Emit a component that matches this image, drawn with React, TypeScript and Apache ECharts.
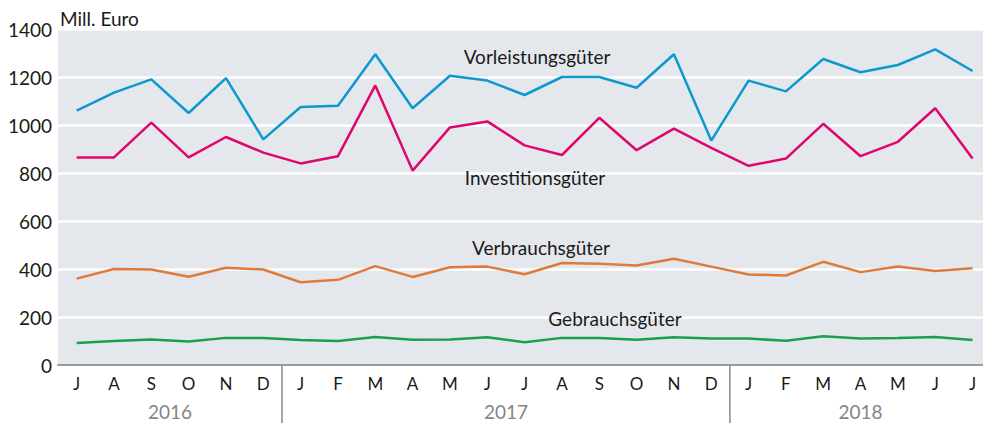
import React, { useEffect, useRef } from "react";
import * as echarts from "echarts";

const months = ["J","A","S","O","N","D","J","F","M","A","M","J","J","A","S","O","N","D","J","F","M","A","M","J","J"];
const years = [
  { label: "2016", from: 0, to: 5 },
  { label: "2017", from: 6, to: 17 },
  { label: "2018", from: 18, to: 24 },
];
const yTicks = [0, 200, 400, 600, 800, 1000, 1200, 1400];

const vorleistung = [1060,1135,1190,1050,1195,940,1075,1080,1295,1070,1205,1185,1125,1200,1200,1155,1295,935,1185,1140,1275,1220,1250,1315,1225];
const investition = [865,865,1010,865,950,885,840,870,1165,810,990,1015,915,875,1030,895,985,905,830,860,1005,870,930,1070,860];
const verbrauch = [360,400,398,368,405,398,345,355,412,367,407,410,378,425,422,415,443,410,377,373,430,387,410,392,403];
const gebrauch = [92,100,106,98,113,113,104,100,117,105,106,116,95,113,113,105,116,110,110,101,120,110,112,117,104];

const seriesDefs = [
  { name: "Vorleistungsgüter", data: vorleistung, color: "#0d98cf" },
  { name: "Investitionsgüter", data: investition, color: "#e0066f" },
  { name: "Verbrauchsgüter", data: verbrauch, color: "#e07a3a" },
  { name: "Gebrauchsgüter", data: gebrauch, color: "#1c9e4b" },
];

const FONT = "Lato, 'Source Sans Pro', 'Noto Sans', sans-serif";

export default function App() {
  const ref = useRef<HTMLDivElement>(null);
  useEffect(() => {
    if (!ref.current) return;
    const chart = echarts.init(ref.current, null, { renderer: "svg" });
    const idx = months.map((_, i) => i);
    chart.setOption({
      animation: false,
      grid: {
        left: 58, top: 29, right: 0, height: 336,
        show: true, backgroundColor: "#e4e8ec", borderWidth: 0,
      },
      xAxis: {
        type: "value",
        min: -0.5,
        max: 24.28,
        axisLine: { onZero: true, lineStyle: { color: "#9a9a9a", width: 2 } },
        axisTick: { show: false },
        splitLine: { show: false },
        axisLabel: {
          customValues: idx,
          color: "#1a1a1a", fontSize: 17, fontFamily: FONT, margin: 10,
          formatter: (v: number) => months[Math.round(v)] ?? "",
        },
      },
      yAxis: {
        type: "value",
        min: 0, max: 1400, interval: 200,
        axisLine: { show: false },
        axisTick: { show: false },
        axisLabel: { color: "#1a1a1a", fontSize: 19, fontFamily: FONT, margin: 6,
          formatter: (v: number) => (yTicks.includes(v) ? String(v) : "") },
        splitLine: { lineStyle: { color: "#ffffff", width: 2.5 } },
      },
      series: seriesDefs.map((s) => ({
        type: "line", name: s.name, data: s.data.map((v, i) => [i, v]), symbol: "none",
        lineStyle: { color: s.color, width: 2.5 }, itemStyle: { color: s.color },
      })),
    });

    const px = (i: number) => chart.convertToPixel({ xAxisIndex: 0 }, i) as number;
    const y0 = chart.convertToPixel({ yAxisIndex: 0 }, 0) as number;
    const graphics: any[] = [];
    years.forEach((yr, k) => {
      const cx = (px(yr.from) + px(yr.to)) / 2;
      graphics.push({
        type: "text", x: cx, y: 411,
        style: { text: yr.label, fill: "#858585", font: `19px ${FONT}`, textAlign: "center", textVerticalAlign: "middle" },
      });
      if (k > 0) {
        const sx = px(yr.from - 0.5);
        graphics.push({
          type: "line", shape: { x1: sx, y1: y0, x2: sx, y2: 423 },
          style: { stroke: "#8a8a8a", lineWidth: 1.5 },
        });
      }
    });
    graphics.push({
      type: "text", x: 60, y: 18,
      style: { text: "Mill. Euro", fill: "#1a1a1a", font: `19px ${FONT}`, textAlign: "left", textVerticalAlign: "middle" },
    });
    const labels = [
      { t: "Vorleistungsgüter", x: 537, y: 56 },
      { t: "Investitionsgüter", x: 535, y: 177 },
      { t: "Verbrauchsgüter", x: 541, y: 247 },
      { t: "Gebrauchsgüter", x: 615, y: 318 },
    ];
    labels.forEach((l) =>
      graphics.push({
        type: "text", x: l.x, y: l.y,
        style: { text: l.t, fill: "#1a1a1a", font: `19px ${FONT}`, textAlign: "center", textVerticalAlign: "middle" },
      })
    );
    chart.setOption({ graphic: graphics });
    return () => chart.dispose();
  }, []);
  return <div ref={ref} style={{ position: "absolute", left: 0, top: 0, width: 983, height: 423 }} />;
}
